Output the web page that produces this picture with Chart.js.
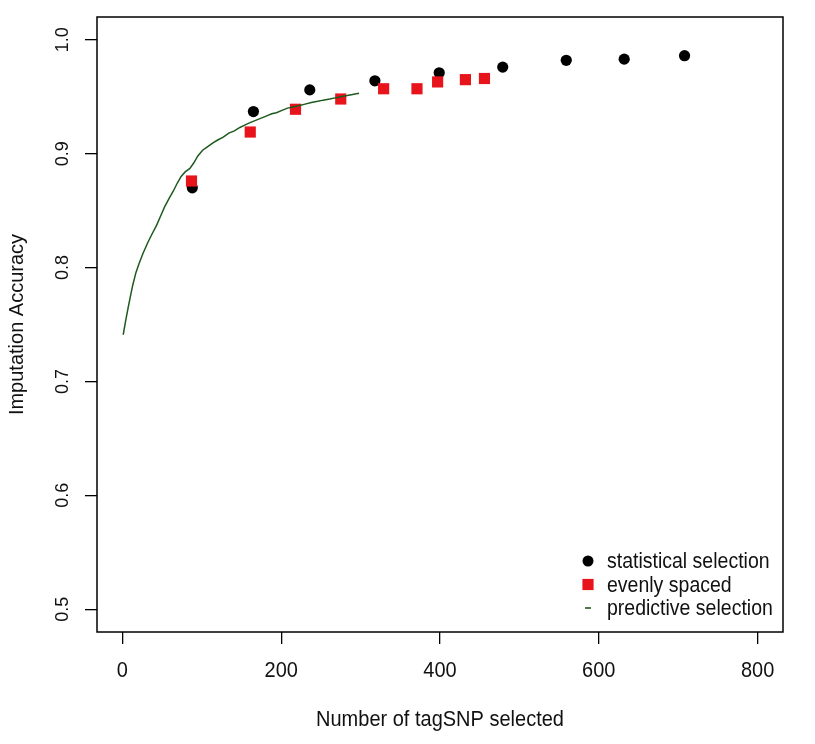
<!DOCTYPE html>
<html lang="en">
  <head>
    <meta charset="UTF-8" />
    <script src="https://cdn.jsdelivr.net/npm/chart.js"></script>
    <title>Imputation Accuracy</title>
    <style>
      body { margin: 0; background: #fff; }
    </style>
  </head>
  <body>
    <canvas id="myChart" width="815" height="744"></canvas>
    <script>
      // statistical selection (black dots)
      const statX = [88, 165, 236, 318, 399, 479, 559, 632, 708];
      const statY = [0.870, 0.937, 0.956, 0.964, 0.971, 0.976, 0.982, 0.983, 0.986];

      // evenly spaced (red squares)
      const evenX = [87, 161, 218, 275, 329, 371, 397, 432, 456];
      const evenY = [0.876, 0.919, 0.939, 0.948, 0.957, 0.957, 0.963, 0.965, 0.966];

      // predictive selection (green line)
      const predX = [1, 4, 7, 10, 13, 17, 21, 26, 32, 37, 43, 48, 53, 59, 64, 69, 74, 79, 85, 90,
        95, 101, 107, 114, 120, 127, 134, 141, 148, 154, 160, 167, 174, 181, 188, 194, 201, 208,
        215, 222, 230, 238, 246, 253, 261, 268, 275, 283, 290, 298];
      const predY = [0.741, 0.753, 0.764, 0.7745, 0.7845, 0.7955, 0.8035, 0.8125, 0.822, 0.829, 0.837,
        0.845, 0.853, 0.861, 0.867, 0.874, 0.880, 0.884, 0.887, 0.892, 0.898, 0.903, 0.906, 0.9095,
        0.912, 0.9145, 0.918, 0.920, 0.923, 0.925, 0.927, 0.929, 0.931, 0.933, 0.935, 0.936, 0.938,
        0.940, 0.941, 0.942, 0.9435, 0.945, 0.946, 0.947, 0.948, 0.949, 0.950, 0.951, 0.952, 0.953];

      const xTicks = [0, 200, 400, 600, 800];
      const yTicks = [0.5, 0.6, 0.7, 0.8, 0.9, 1.0];
      const legendLabels = ["statistical selection", "evenly spaced", "predictive selection"];

      const FONT = "'Liberation Sans', Arial, sans-serif";
      const RED = "#e8141b";
      const GREEN = "#1e5a1e";
      const SY = 1.12; // text in the picture is a bit taller than wide

      const pts = (xs, ys) => xs.map((x, i) => ({ x: x, y: ys[i] }));

      function text(ctx, s, x, y, rot, sy) {
        ctx.save();
        ctx.translate(x, y);
        if (rot) ctx.rotate(rot);
        ctx.scale(1, sy || 1);
        ctx.fillText(s, 0, 0);
        ctx.restore();
      }

      // box, tick labels, titles and legend in R style
      const rStyle = {
        id: "rStyle",
        afterDraw(chart) {
          const ctx = chart.ctx;
          const a = chart.chartArea;
          const xs = chart.scales.x;
          const ys = chart.scales.y;
          ctx.save();
          ctx.strokeStyle = "#000";
          ctx.lineWidth = 1.5;
          ctx.strokeRect(a.left, a.top, a.right - a.left, a.bottom - a.top);

          ctx.fillStyle = "#111";
          ctx.font = "20px " + FONT;
          ctx.textAlign = "center";
          ctx.textBaseline = "alphabetic";
          xTicks.forEach(v => text(ctx, String(v), xs.getPixelForValue(v), 677, 0, SY));
          text(ctx, "Number of tagSNP selected", (a.left + a.right) / 2, 726, 0, SY);

          ctx.font = "18px " + FONT;
          yTicks.forEach(v => text(ctx, v.toFixed(1), 68, ys.getPixelForValue(v), -Math.PI / 2));
          ctx.font = "20px " + FONT;
          text(ctx, "Imputation Accuracy", 23, (a.top + a.bottom) / 2, -Math.PI / 2);

          // legend
          const lx = 588, tx = 607;
          const rows = [561, 584.5, 608];
          ctx.font = "19.5px " + FONT;
          ctx.textAlign = "left";
          ctx.textBaseline = "middle";
          legendLabels.forEach((t, i) => text(ctx, t, tx, rows[i] + 1, 0, SY));
          ctx.fillStyle = "#000";
          ctx.beginPath();
          ctx.arc(lx, rows[0], 5.5, 0, Math.PI * 2);
          ctx.fill();
          ctx.fillStyle = RED;
          ctx.fillRect(lx - 5.6, rows[1] - 5.6, 11.2, 11.2);
          ctx.strokeStyle = GREEN;
          ctx.lineWidth = 1.6;
          ctx.beginPath();
          ctx.moveTo(lx - 3, rows[2]);
          ctx.lineTo(lx + 3, rows[2]);
          ctx.stroke();
          ctx.restore();
        }
      };

      const config = {
        type: "scatter",
        data: {
          datasets: [
            {
              label: legendLabels[0],
              data: pts(statX, statY),
              backgroundColor: "#000",
              borderColor: "#000",
              pointRadius: 5.6,
              pointBorderWidth: 0,
              order: 3,
            },
            {
              label: legendLabels[1],
              data: pts(evenX, evenY),
              backgroundColor: RED,
              borderColor: RED,
              pointStyle: "rect",
              pointRadius: 7.9,
              pointBorderWidth: 0,
              order: 2,
            },
            {
              label: legendLabels[2],
              data: pts(predX, predY),
              showLine: true,
              borderColor: GREEN,
              borderWidth: 1.5,
              pointRadius: 0,
              tension: 0,
              order: 1,
            },
          ],
        },
        options: {
          responsive: false,
          animation: false,
          layout: { padding: { top: 17, right: 32, left: 0, bottom: 0 } },
          plugins: { legend: { display: false }, tooltip: { enabled: false } },
          scales: {
            x: {
              type: "linear",
              min: -32,
              max: 832,
              afterBuildTicks: s => { s.ticks = xTicks.map(v => ({ value: v })); },
              afterFit: s => { s.height = 112; },
              ticks: { display: false },
              border: { display: false },
              grid: { drawOnChartArea: false, drawTicks: true, tickLength: 12, color: "#000", lineWidth: 1.3 },
            },
            y: {
              type: "linear",
              min: 0.48,
              max: 1.02,
              afterBuildTicks: s => { s.ticks = yTicks.map(v => ({ value: v })); },
              afterFit: s => { s.width = 97; },
              ticks: { display: false },
              border: { display: false },
              grid: { drawOnChartArea: false, drawTicks: true, tickLength: 12, color: "#000", lineWidth: 1.3 },
            },
          },
        },
        plugins: [rStyle],
      };

      var myChart = new Chart(document.getElementById("myChart"), config);
    </script>
  </body>
</html>
